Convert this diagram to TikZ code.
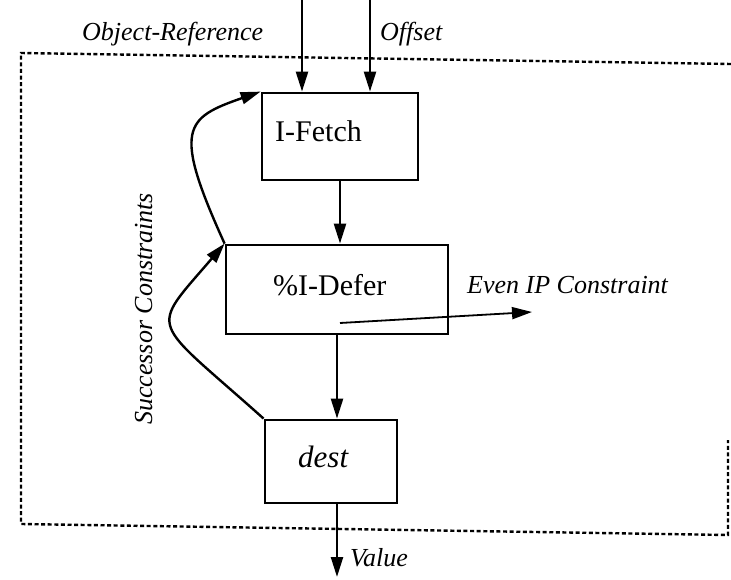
\documentclass[tikz,border=0pt]{standalone}
\usepackage{fontspec}
\setmainfont{Liberation Serif}
\usetikzlibrary{arrows.meta}
\tikzset{
  boxnode/.style={draw, line width=2.8pt, minimum width=#1, inner sep=0pt},
  boxtxt/.style={inner sep=0pt, anchor=base west, font=\fontsize{30}{36}\selectfont},
  lbl/.style={inner sep=0pt, anchor=base west, font=\fontsize{26}{30}\selectfont\itshape},
  conn/.style={line width=2.4pt, -{Triangle[length=20pt,width=12pt]}},
  frame/.style={line width=2.4pt, dash pattern=on 4pt off 2.6pt}
}
\begin{document}
\begin{tikzpicture}[x=1pt,y=-1pt]
\useasboundingbox (0,0) rectangle (731,580);
% dashed frame
\draw[frame] (731,64) -- (21,53) -- (21,524) -- (728,535) -- (728,440);
% boxes
\node[boxnode=156pt, minimum height=87pt] (fetch) at (340,136.5) {};
\node[boxnode=222pt, minimum height=89pt] (defer) at (337,289.5) {};
\node[boxnode=132pt, minimum height=83pt] (dest) at (331,461.5) {};
% box texts
\node[boxtxt] (fetchtxt) at (275,142) {I-Fetch};
\node[boxtxt] (defertxt) at (273,295) {\%I-Defer};
\node[boxtxt, font=\fontsize{31}{36}\selectfont\itshape] (desttxt) at (298,467) {dest};
% labels
\node[lbl] (objref) at (82,41) {Object-Reference};
\node[lbl] (offset) at (380,41) {Offset};
\node[lbl] (evenip) at (467,294) {Even IP Constraint};
\node[lbl] (value) at (350,566) {Value};
\node[lbl, rotate=90] (succ) at (152,425) {Successor Constraints};
% free ends
\coordinate (in1) at (302,0);
\coordinate (in2) at (370,0);
\coordinate (outv) at (337,577);
\coordinate (ipa) at (340,323);
\coordinate (ipb) at (532,312);
% connectors
\draw[conn] (in1) -- (in1 |- fetch.north);
\draw[conn] (in2) -- (in2 |- fetch.north);
\draw[conn] (fetch.south) -- (fetch.south |- defer.north);
\draw[conn] (defer.south) -- (defer.south |- dest.north);
\draw[conn] (outv |- dest.south) -- (outv);
\draw[conn, line width=1.8pt] (ipa) -- (ipb);
\draw[conn] (dest.north west) .. controls (149,316) and (148,333) .. (defer.north west);
\draw[conn] (defer.north west) .. controls (172,128) and (185,118) .. (fetch.north west);
\end{tikzpicture}
\end{document}
